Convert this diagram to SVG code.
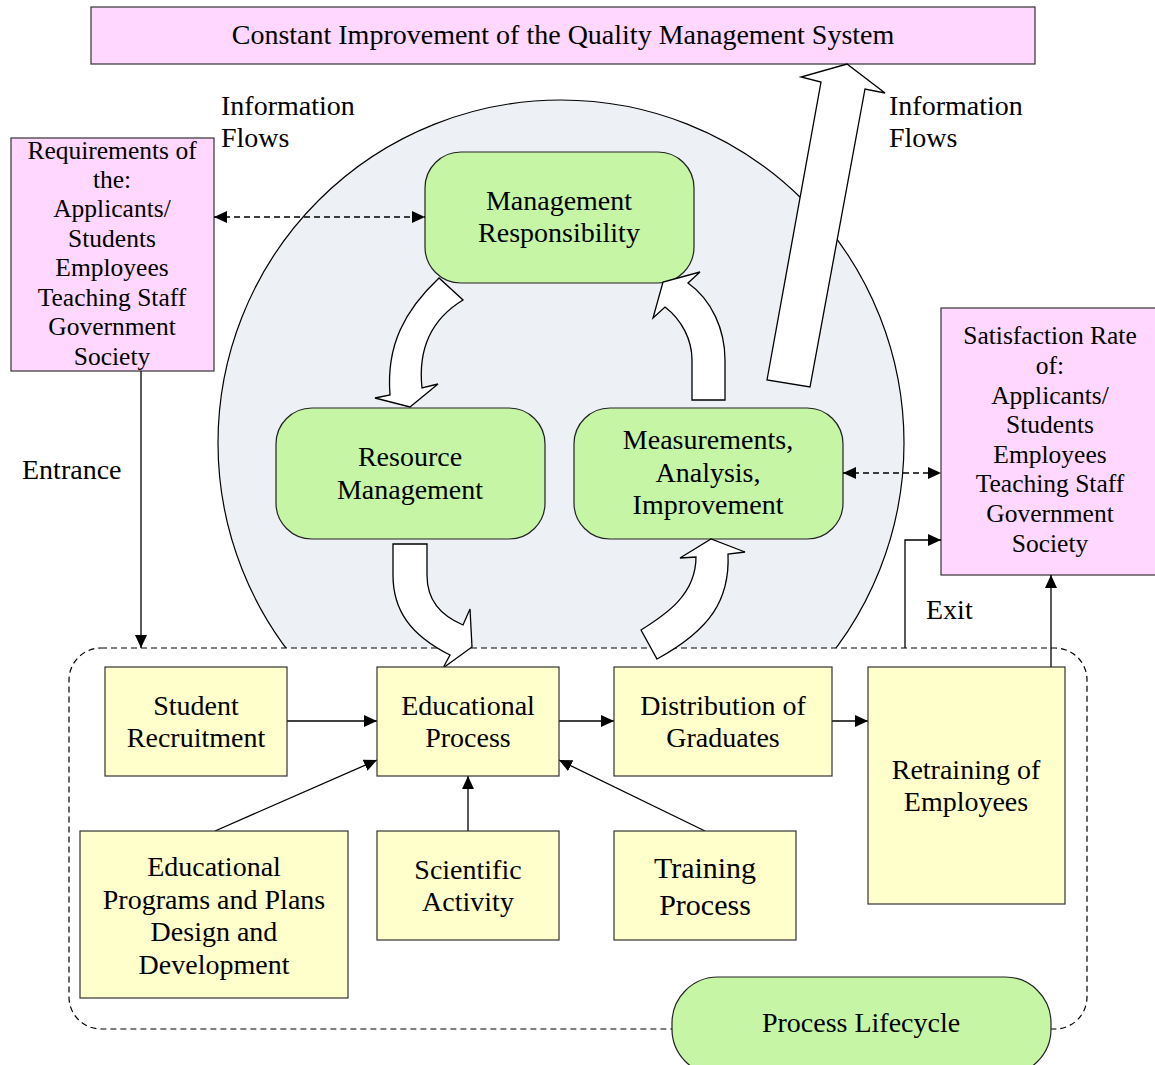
<svg xmlns="http://www.w3.org/2000/svg" width="1155" height="1065" viewBox="0 0 1155 1065">
<defs>
<marker id="ah" markerUnits="userSpaceOnUse" markerWidth="14" markerHeight="12" refX="13" refY="6" orient="auto-start-reverse" viewBox="0 0 14 12">
<path d="M0,0 L13,6 L0,12 Z" fill="#000"/>
</marker>
<style>
text{font-family:"Liberation Serif","Times New Roman",serif;font-size:28px;fill:#000;text-anchor:middle}
.sm{font-size:25.5px}
.lt{text-anchor:start}
.pink{fill:#ffd7ff;stroke:#333;stroke-width:1.2}
.green{fill:#c6f5a6;stroke:#222;stroke-width:1.2}
.yel{fill:#ffffcc;stroke:#333;stroke-width:1.2}
.blk{fill:#fff;stroke:#000;stroke-width:1.3;stroke-linejoin:miter}
.ln{fill:none;stroke:#000;stroke-width:1.3}
.dl{fill:none;stroke:#000;stroke-width:1.3;stroke-dasharray:6,4}
</style>
</defs>
<rect width="1155" height="1065" fill="#fff"/>
<circle cx="561" cy="443" r="343" fill="#edf0f5" stroke="#000" stroke-width="1.2"/>
<rect x="69" y="648" width="1018" height="381" rx="32" ry="32" fill="#fff" stroke="#000" stroke-width="1.2" stroke-dasharray="6,4"/>

<g id="top-box">
<rect class="pink" x="91" y="7" width="944" height="57"/>
<text x="563" y="44">Constant Improvement of the Quality Management System</text>
</g>
<g id="info-left"><text class="lt" x="221" y="115">Information</text><text class="lt" x="221" y="147">Flows</text></g>
<g id="info-right"><text class="lt" x="889" y="115">Information</text><text class="lt" x="889" y="147">Flows</text></g>
<g id="requirements">
<rect class="pink" x="11" y="138" width="203" height="233"/>
<text class="sm" x="112" y="159">Requirements of</text>
<text class="sm" x="112" y="188">the:</text>
<text class="sm" x="112" y="217">Applicants/</text>
<text class="sm" x="112" y="247">Students</text>
<text class="sm" x="112" y="276">Employees</text>
<text class="sm" x="112" y="306">Teaching Staff</text>
<text class="sm" x="112" y="335">Government</text>
<text class="sm" x="112" y="365">Society</text>
</g>
<g id="satisfaction">
<rect class="pink" x="941" y="308" width="220" height="267"/>
<text class="sm" x="1050" y="344">Satisfaction Rate</text>
<text class="sm" x="1050" y="374">of:</text>
<text class="sm" x="1050" y="404">Applicants/</text>
<text class="sm" x="1050" y="433">Students</text>
<text class="sm" x="1050" y="463">Employees</text>
<text class="sm" x="1050" y="492">Teaching Staff</text>
<text class="sm" x="1050" y="522">Government</text>
<text class="sm" x="1050" y="552">Society</text>
</g>
<g id="mgmt">
<rect class="green" x="425" y="152" width="269" height="131" rx="36" ry="36"/>
<text x="559" y="210">Management</text><text x="559" y="242">Responsibility</text>
</g>
<g id="resource">
<rect class="green" x="276" y="408" width="269" height="131" rx="36" ry="36"/>
<text x="410" y="466">Resource</text><text x="410" y="499">Management</text>
</g>
<g id="measure">
<rect class="green" x="574" y="408" width="269" height="131" rx="36" ry="36"/>
<text x="708" y="449">Measurements,</text><text x="708" y="482">Analysis,</text><text x="708" y="514">Improvement</text>
</g>
<g id="entrance-label"><text class="lt" x="22" y="479">Entrance</text></g>
<g id="exit-label"><text class="lt" x="926" y="619">Exit</text></g>

<g id="connectors">
<line class="dl" x1="214" y1="217" x2="425" y2="217" marker-start="url(#ah)" marker-end="url(#ah)"/>
<line class="dl" x1="843" y1="473" x2="941" y2="473" marker-start="url(#ah)" marker-end="url(#ah)"/>
<line class="ln" x1="141" y1="371" x2="141" y2="648" marker-end="url(#ah)"/>
<polyline class="ln" points="905,648 905,540 941,540" marker-end="url(#ah)"/>
<line class="ln" x1="1051" y1="667" x2="1051" y2="575" marker-end="url(#ah)"/>
<line class="ln" x1="287" y1="721" x2="377" y2="721" marker-end="url(#ah)"/>
<line class="ln" x1="559" y1="721" x2="614" y2="721" marker-end="url(#ah)"/>
<line class="ln" x1="832" y1="721" x2="868" y2="721" marker-end="url(#ah)"/>
<line class="ln" x1="215" y1="831" x2="377" y2="760" marker-end="url(#ah)"/>
<line class="ln" x1="468" y1="831" x2="468" y2="776" marker-end="url(#ah)"/>
<line class="ln" x1="705" y1="831" x2="559" y2="760" marker-end="url(#ah)"/>
<path class="blk" d="M439,278 C405,310 386,345 390,395 L375,398 L410,407 L438,384 L422,388 C418,350 430,320 463,300 Z"/>
<path class="blk" d="M692,400 L692,360 C692,340 682,320 665,307 L653,318 L663,282 L700,272 L688,283 C712,300 725,330 725,360 L725,400 Z"/>
<path class="blk" d="M393,544 L427,544 L427,575 C427,600 440,615 463,625 L470,609 L472,647 L443,668 L450,655 C410,635 393,610 393,575 Z"/>
<path class="blk" d="M641,630 C665,615 696,595 696,557 L680,558 L711,539 L745,552 L728,554 C730,600 710,630 657,659 Z"/>
<path class="blk" d="M767,380 L821,82 L801,77 L847,64 L885,93 L865,89 L810,387 Z"/>
</g>

<g id="student-recruitment">
<rect class="yel" x="105" y="667" width="182" height="109"/>
<text x="196" y="715">Student</text><text x="196" y="747">Recruitment</text>
</g>
<g id="educational-process">
<rect class="yel" x="377" y="667" width="182" height="109"/>
<text x="468" y="715">Educational</text><text x="468" y="747">Process</text>
</g>
<g id="distribution">
<rect class="yel" x="614" y="667" width="218" height="109"/>
<text x="723" y="715">Distribution of</text><text x="723" y="747">Graduates</text>
</g>
<g id="retraining">
<rect class="yel" x="868" y="667" width="197" height="237"/>
<text x="966" y="779">Retraining of</text><text x="966" y="811">Employees</text>
</g>
<g id="programs">
<rect class="yel" x="80" y="831" width="268" height="167"/>
<text x="214" y="876">Educational</text><text x="214" y="909">Programs and Plans</text><text x="214" y="941">Design and</text><text x="214" y="974">Development</text>
</g>
<g id="scientific">
<rect class="yel" x="377" y="831" width="182" height="109"/>
<text x="468" y="879">Scientific</text><text x="468" y="911">Activity</text>
</g>
<g id="training">
<rect class="yel" x="614" y="831" width="182" height="109"/>
<text x="705" y="878" style="font-size:30px">Training</text><text x="705" y="915" style="font-size:30px">Process</text>
</g>
<g id="lifecycle">
<rect class="green" x="672" y="977" width="379" height="98" rx="46" ry="46"/>
<text x="861" y="1032">Process Lifecycle</text>
</g>
</svg>
